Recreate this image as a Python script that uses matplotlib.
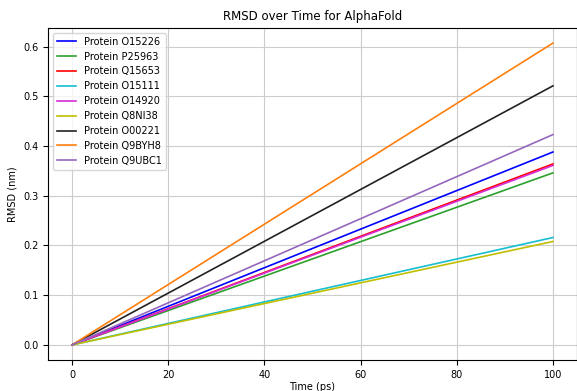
import matplotlib as mpl

mpl.use("Agg")

import matplotlib.pyplot as plt

# time endpoints (ps) and RMSD at those endpoints (nm)
time_ps = [0, 100]
proteins = ["O15226", "P25963", "Q15653", "O15111", "O14920",
            "Q8NI38", "O00221", "Q9BYH8", "Q9UBC1"]
rmsd_start = [0.0, 0.0, 0.0, 0.0, 0.0, 0.0, 0.0, 0.0, 0.0]
rmsd_end = [0.388, 0.346, 0.364, 0.216, 0.361, 0.208, 0.521, 0.607, 0.423]
colors = ["#0000ff", "#2ca02c", "#ff0000", "#17becf", "#d62bd6",
          "#bfbf00", "#222222", "#ff7f0e", "#9467bd"]

fig = plt.figure(figsize=(5.77, 3.91), dpi=100)
ax = fig.add_axes([48 / 577, 31 / 391, 529 / 577, 332 / 391])

for name, y0, y1, c in zip(proteins, rmsd_start, rmsd_end, colors):
    ax.plot(time_ps, [y0, y1], color=c, linewidth=1.2, label=f"Protein {name}")

ax.set_title("RMSD over Time for AlphaFold", fontsize=8.5)
ax.set_xlabel("Time (ps)", fontsize=7, labelpad=2)
ax.set_ylabel("RMSD (nm)", fontsize=7)
ax.tick_params(labelsize=7)
ax.grid(True, color="#cccccc", linewidth=0.8)
ax.legend(loc="upper left", fontsize=7, handlelength=2.0)

fig.savefig("out.png", dpi=100)
